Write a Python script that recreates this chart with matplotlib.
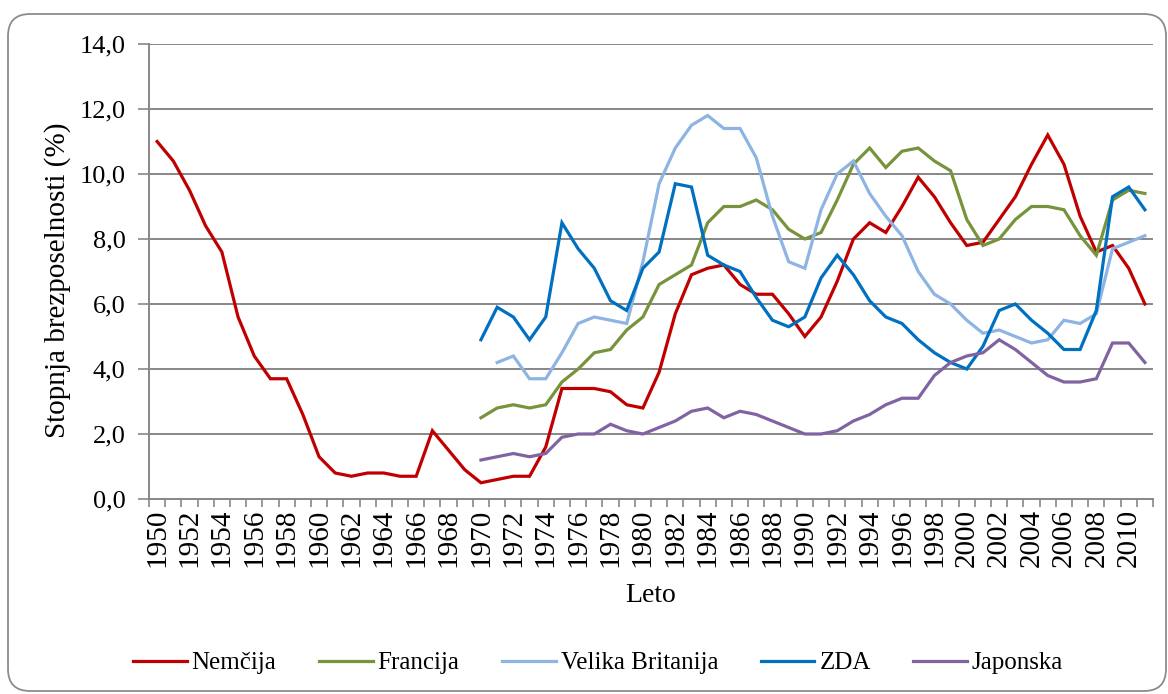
import matplotlib
matplotlib.use("Agg")
import matplotlib.pyplot as plt
from matplotlib.patches import FancyBboxPatch
from matplotlib.transforms import IdentityTransform
import numpy as np

# unemployment rate (%) per year
years = list(range(1950, 2012))

nemcija = [11.0, 10.4, 9.5, 8.4, 7.6, 5.6, 4.4, 3.7, 3.7, 2.6,
           1.3, 0.8, 0.7, 0.8, 0.8, 0.7, 0.7, 2.1, 1.5, 0.9,
           0.5, 0.6, 0.7, 0.7, 1.6, 3.4, 3.4, 3.4, 3.3, 2.9,
           2.8, 3.9, 5.7, 6.9, 7.1, 7.2, 6.6, 6.3, 6.3, 5.7,
           5.0, 5.6, 6.7, 8.0, 8.5, 8.2, 9.0, 9.9, 9.3, 8.5,
           7.8, 7.9, 8.6, 9.3, 10.3, 11.2, 10.3, 8.7, 7.6, 7.8,
           7.1, 6.0]

# from 1970
francija = [2.5, 2.8, 2.9, 2.8, 2.9, 3.6, 4.0, 4.5, 4.6, 5.2,
            5.6, 6.6, 6.9, 7.2, 8.5, 9.0, 9.0, 9.2, 8.9, 8.3,
            8.0, 8.2, 9.2, 10.3, 10.8, 10.2, 10.7, 10.8, 10.4, 10.1,
            8.6, 7.8, 8.0, 8.6, 9.0, 9.0, 8.9, 8.1, 7.5, 9.2,
            9.5, 9.4]

# from 1971
velika_britanija = [4.2, 4.4, 3.7, 3.7, 4.5, 5.4, 5.6, 5.5, 5.4,
                    7.3, 9.7, 10.8, 11.5, 11.8, 11.4, 11.4, 10.5, 8.7, 7.3,
                    7.1, 8.9, 10.0, 10.4, 9.4, 8.7, 8.1, 7.0, 6.3, 6.0,
                    5.5, 5.1, 5.2, 5.0, 4.8, 4.9, 5.5, 5.4, 5.7, 7.7,
                    7.9, 8.1]

# from 1970
zda = [4.9, 5.9, 5.6, 4.9, 5.6, 8.5, 7.7, 7.1, 6.1, 5.8,
       7.1, 7.6, 9.7, 9.6, 7.5, 7.2, 7.0, 6.2, 5.5, 5.3,
       5.6, 6.8, 7.5, 6.9, 6.1, 5.6, 5.4, 4.9, 4.5, 4.2,
       4.0, 4.7, 5.8, 6.0, 5.5, 5.1, 4.6, 4.6, 5.8, 9.3,
       9.6, 8.9]

# from 1970
japonska = [1.2, 1.3, 1.4, 1.3, 1.4, 1.9, 2.0, 2.0, 2.3, 2.1,
            2.0, 2.2, 2.4, 2.7, 2.8, 2.5, 2.7, 2.6, 2.4, 2.2,
            2.0, 2.0, 2.1, 2.4, 2.6, 2.9, 3.1, 3.1, 3.8, 4.2,
            4.4, 4.5, 4.9, 4.6, 4.2, 3.8, 3.6, 3.6, 3.7, 4.8,
            4.8, 4.2]

series = [
    ("Nemčija", 1950, nemcija, "#C00000"),
    ("Francija", 1970, francija, "#77933C"),
    ("Velika Britanija", 1971, velika_britanija, "#8EB4E3"),
    ("ZDA", 1970, zda, "#0070C0"),
    ("Japonska", 1970, japonska, "#8064A2"),
]

plt.rcParams['font.family'] = ['Liberation Serif', 'DejaVu Serif']
plt.rcParams['font.size'] = 19

W, H = 1168, 694
fig = plt.figure(figsize=(W / 100, H / 100), dpi=100)
ax = fig.add_axes([149 / W, 1 - 499 / H, (1153 - 149) / W, (499 - 44) / H])

for name, start, vals, col in series:
    x = np.arange(len(vals)) + (start - years[0])
    ax.plot(x, vals, color=col, lw=2.3, label=name, solid_joinstyle='miter')

grey = "#878787"
ax.set_xlim(-0.5, len(years) - 0.5)
ax.set_ylim(0, 14)
yt = np.arange(0, 14.1, 2)
ax.set_yticks(yt)
ax.set_yticklabels([f"{v:.1f}".replace(".", ",") for v in yt], fontsize=19)
ax.yaxis.grid(True, color=grey, lw=1.4)
ax.set_axisbelow(True)

ax.set_xticks(np.arange(0, len(years), 2))
ax.set_xticklabels([str(y) for y in years[::2]], rotation=90, fontsize=21)
ax.set_xticks(np.arange(-0.5, len(years), 1), minor=True)
ax.tick_params(axis='x', which='major', length=0, pad=7)
ax.tick_params(axis='x', which='minor', length=6, color=grey, width=1.2)
ax.tick_params(axis='y', length=8, color=grey, width=1.2, pad=9)

for s in ["top", "right"]:
    ax.spines[s].set_visible(False)
for s in ["left", "bottom"]:
    ax.spines[s].set_color(grey)
    ax.spines[s].set_linewidth(1.4)

fig.text(58 / W, 1 - 280 / H, "Stopnja brezposelnosti (%)", rotation=90,
         ha="center", va="center", fontsize=21)
fig.text(651 / W, 1 - 596 / H, "Leto", ha="center", va="center", fontsize=20)

handles, labels = ax.get_legend_handles_labels()
fig.legend(handles, labels, loc="center", bbox_to_anchor=(598 / W, 1 - 663 / H),
           ncol=5, frameon=False, fontsize=18, handlelength=2.15,
           handletextpad=0.2, columnspacing=1.7)

# rounded outer frame (pixel coordinates)
frame = FancyBboxPatch((8, 3), 1158, 677, boxstyle="round,pad=0,rounding_size=22",
                       transform=IdentityTransform(), facecolor="none",
                       edgecolor="#8c8c8c", lw=1.3)
fig.patches.append(frame)

fig.savefig("out.png", dpi=100)
